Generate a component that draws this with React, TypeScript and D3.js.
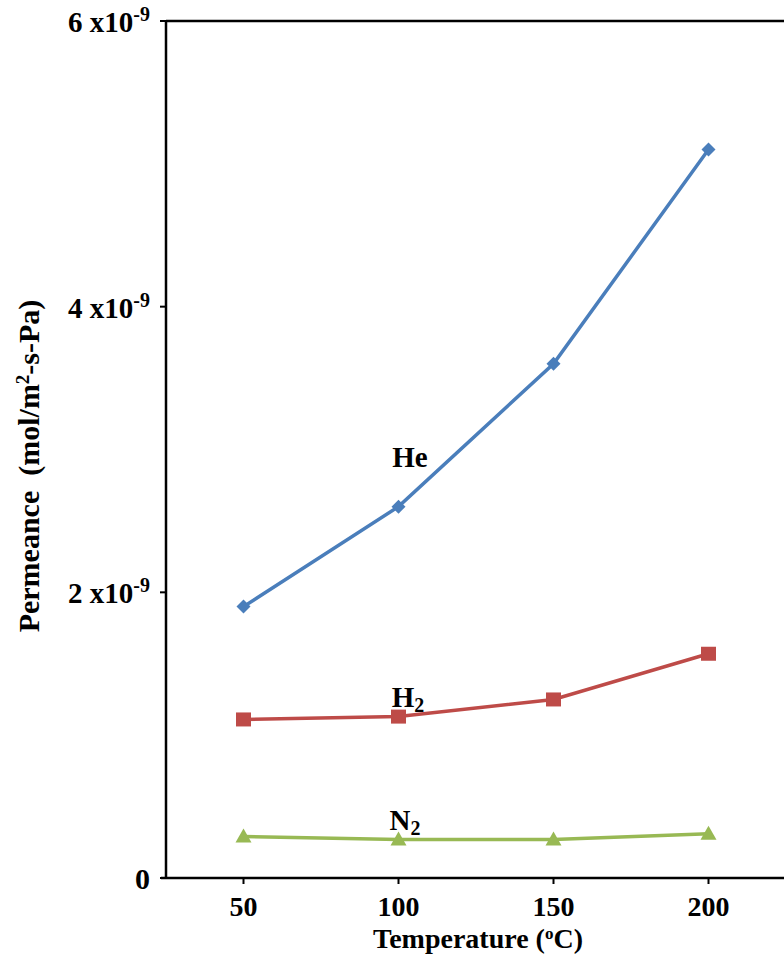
import React from "react";
import * as d3 from "d3";

const temperatures = [50, 100, 150, 200];
const heValues = [1.9, 2.6, 3.6, 5.1];
const h2Values = [1.11, 1.13, 1.25, 1.57];
const n2Values = [0.29, 0.27, 0.27, 0.31];
const yTicks = [0, 2, 4, 6];
const xTicks = [50, 100, 150, 200];

const W = 784, H = 955;
const left = 166, top = 21, bottom = 878, right = 786;

export default function App() {
  const x = d3.scaleLinear().domain([25, 225]).range([left, right]);
  const y = d3.scaleLinear().domain([0, 6]).range([bottom, top]);
  const line = d3.line<number>().x((_, i) => x(temperatures[i])).y((d) => y(d));
  const font = "'Liberation Serif', 'Times New Roman', serif";
  const series = [
    { name: "He", vals: heValues, color: "#4A7EBB", shape: "diamond" },
    { name: "H2", vals: h2Values, color: "#BE4B48", shape: "square" },
    { name: "N2", vals: n2Values, color: "#98B954", shape: "triangle" },
  ];
  const marker = (shape: string, cx: number, cy: number, color: string, key: string) => {
    if (shape === "square") return <rect key={key} x={cx - 7.5} y={cy - 7} width={15} height={14} fill={color} />;
    if (shape === "diamond") return <path key={key} d={`M${cx},${cy - 7}L${cx + 7},${cy}L${cx},${cy + 7}L${cx - 7},${cy}Z`} fill={color} />;
    return <path key={key} d={`M${cx},${cy - 8}L${cx + 8},${cy + 6}L${cx - 8},${cy + 6}Z`} fill={color} />;
  };
  return (
    <svg width={W} height={H} style={{ position: "absolute", left: 0, top: 0, background: "#fff" }} fontFamily={font}>
      {series.map((s) => (
        <g key={s.name}>
          <path d={line(s.vals) || ""} fill="none" stroke={s.color} strokeWidth={3.5} />
          {s.vals.map((v, i) => marker(s.shape, x(temperatures[i]), y(v), s.color, s.name + i))}
        </g>
      ))}
      <line x1={left} y1={top} x2={W} y2={top} stroke="#000" strokeWidth={2.5} />
      <line x1={left} y1={top - 1} x2={left} y2={bottom + 1} stroke="#000" strokeWidth={2.5} />
      <line x1={left - 5} y1={bottom} x2={W} y2={bottom} stroke="#000" strokeWidth={2.5} />
      {yTicks.map((t) => (
        <g key={"y" + t}>
          <line x1={left - 6} x2={left} y1={y(t)} y2={y(t)} stroke="#000" strokeWidth={2} />
          {t === 0 ? (
            <text x={150} y={y(t) + 11} textAnchor="end" fontSize={30} fontWeight="bold">0</text>
          ) : (
            <text x={150} y={y(t) + 11} textAnchor="end" fontSize={29} fontWeight="bold">
              {t} x10<tspan dy={-11} fontSize={20}>-9</tspan>
            </text>
          )}
        </g>
      ))}
      {xTicks.map((t) => (
        <g key={"x" + t}>
          <line x1={x(t)} x2={x(t)} y1={bottom} y2={bottom + 6} stroke="#000" strokeWidth={2} />
          <text x={x(t)} y={916} textAnchor="middle" fontSize={28} fontWeight="bold">{t}</text>
        </g>
      ))}
      <text x={478} y={948} textAnchor="middle" fontSize={28} fontWeight="bold">
        Temperature (<tspan dy={-9} fontSize={17}>o</tspan><tspan dy={9}>C)</tspan>
      </text>
      <text transform="translate(39,466) rotate(-90)" textAnchor="middle" fontSize={30} fontWeight="bold" style={{ whiteSpace: "pre" }}>
        {"Permeance  (mol/m"}<tspan dy={-10} fontSize={19}>2</tspan><tspan dy={10}>-s-Pa)</tspan>
      </text>
      <text x={410} y={467} textAnchor="middle" fontSize={29} fontWeight="bold">He</text>
      <text x={408} y={707} textAnchor="middle" fontSize={29} fontWeight="bold">
        H<tspan dy={5} fontSize={20}>2</tspan>
      </text>
      <text x={405} y={830} textAnchor="middle" fontSize={29} fontWeight="bold">
        N<tspan dy={5} fontSize={20}>2</tspan>
      </text>
    </svg>
  );
}
